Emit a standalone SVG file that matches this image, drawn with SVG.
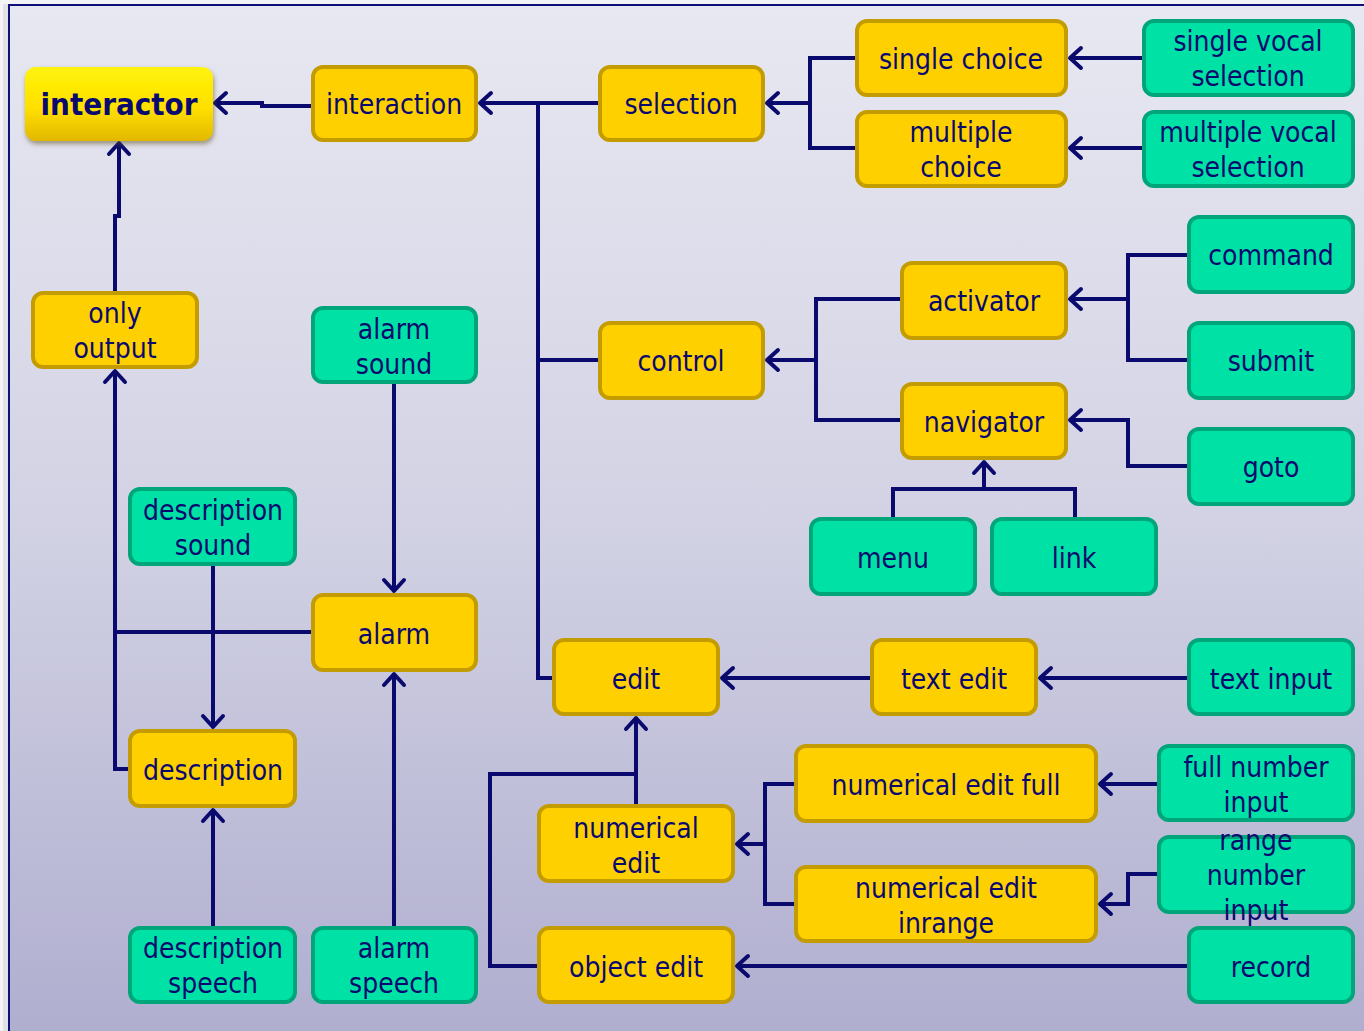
<svg xmlns="http://www.w3.org/2000/svg" width="1364" height="1031" viewBox="0 0 1364 1031">
  <defs>
    <linearGradient id="bg" x1="0" y1="0" x2="0" y2="1">
      <stop offset="0" stop-color="#E8E8F2"/>
      <stop offset="0.5" stop-color="#D2D2E4"/>
      <stop offset="1" stop-color="#B0AECF"/>
    </linearGradient>
    <linearGradient id="gold" x1="0" y1="0" x2="0" y2="1">
      <stop offset="0" stop-color="#FFF30A"/>
      <stop offset="0.55" stop-color="#FFE000"/>
      <stop offset="1" stop-color="#E2B800"/>
    </linearGradient>
    <filter id="shadow" x="-10%" y="-10%" width="125%" height="135%">
      <feDropShadow dx="1" dy="3" stdDeviation="2.5" flood-color="#5a5020" flood-opacity="0.55"/>
    </filter>
    <marker id="arrow" markerUnits="userSpaceOnUse" markerWidth="30" markerHeight="30" viewBox="-16 -15 20 30" refX="0" refY="0" orient="auto">
      <path d="M-11,-10 L0,0 L-11,10" fill="none" stroke="#0A0A6E" stroke-width="4" stroke-linecap="round" stroke-linejoin="round"/>
    </marker>
  </defs>
  <style>
    .y rect { fill: #FFD000; stroke: #C29C00; stroke-width: 4; }
    .g rect { fill: #00E1A6; stroke: #00A57A; stroke-width: 4; }
    text { font-family: "DejaVu Sans Condensed", "DejaVu Sans", sans-serif; font-size: 28px; fill: #0A0A6E; text-anchor: middle; }
    .conn path { fill: none; stroke: #0A0A6E; stroke-width: 4; stroke-linejoin: miter; }
    .conn path.a { marker-end: url(#arrow); }
  </style>

  <!-- page background -->
  <rect x="0" y="0" width="1364" height="1031" fill="#F4F4F6"/>
  <rect x="3" y="4" width="6" height="1027" fill="#E2E2E6"/>
  <rect x="9" y="5" width="1360" height="1030" fill="url(#bg)" stroke="#10107A" stroke-width="2"/>

  <!-- connectors -->
  <g class="conn">
    <path class="a" d="M311,106 H262 V103 H215"/>
    <path class="a" d="M115,291 V216 H119 V143"/>
    <path class="a" d="M598,103 H480"/>
    <path d="M538,103 V678 H552 M538,360 H598"/>
    <path d="M855,58 H810 V148 H855"/>
    <path class="a" d="M810,103 H767"/>
    <path class="a" d="M1142,58 H1070"/>
    <path class="a" d="M1142,148 H1070"/>
    <path d="M900,299 H816 V420 H900"/>
    <path class="a" d="M816,360 H767"/>
    <path d="M1187,255 H1128 V360 H1187"/>
    <path class="a" d="M1128,299 H1070"/>
    <path class="a" d="M1187,466 H1128 V420 H1070"/>
    <path d="M893,517 V489 H1075 V517"/>
    <path class="a" d="M984,489 V462"/>
    <path class="a" d="M394,384 V591"/>
    <path d="M311,632 H115"/>
    <path class="a" d="M128,769 H115 V371"/>
    <path class="a" d="M213,566 V727"/>
    <path class="a" d="M213,926 V810"/>
    <path class="a" d="M394,926 V674"/>
    <path class="a" d="M870,678 H722"/>
    <path class="a" d="M1187,678 H1040"/>
    <path class="a" d="M636,804 V718"/>
    <path d="M537,966 H490 V774 H636"/>
    <path d="M794,784 H765 V904 H794"/>
    <path class="a" d="M765,844 H737"/>
    <path class="a" d="M1157,784 H1100"/>
    <path class="a" d="M1157,874 H1128 V904 H1100"/>
    <path class="a" d="M1187,966 H737"/>
  </g>

  <!-- nodes -->
  <g id="interactor">
    <rect x="25" y="67" width="188" height="74" rx="11" fill="url(#gold)" filter="url(#shadow)"/>
    <text x="119" y="115" style="font-weight:bold;font-size:31px">interactor</text>
  </g>
  <g id="interaction" class="y"><rect x="313" y="67" width="163" height="73" rx="10"/><text x="394" y="114">interaction</text></g>
  <g id="selection" class="y"><rect x="600" y="67" width="163" height="73" rx="10"/><text x="681" y="114">selection</text></g>
  <g id="single-choice" class="y"><rect x="857" y="21" width="209" height="74" rx="10"/><text x="961" y="69">single choice</text></g>
  <g id="multiple-choice" class="y"><rect x="857" y="112" width="209" height="74" rx="10"/><text x="961" y="142">multiple</text><text x="961" y="177">choice</text></g>
  <g id="single-vocal-selection" class="g"><rect x="1144" y="21" width="209" height="74" rx="10"/><text x="1248" y="51">single vocal</text><text x="1248" y="86">selection</text></g>
  <g id="multiple-vocal-selection" class="g"><rect x="1144" y="112" width="209" height="74" rx="10"/><text x="1248" y="142">multiple vocal</text><text x="1248" y="177">selection</text></g>
  <g id="only-output" class="y"><rect x="33" y="293" width="164" height="74" rx="10"/><text x="115" y="323">only</text><text x="115" y="358">output</text></g>
  <g id="alarm-sound" class="g"><rect x="313" y="308" width="163" height="74" rx="10"/><text x="394" y="339">alarm</text><text x="394" y="374">sound</text></g>
  <g id="control" class="y"><rect x="600" y="323" width="163" height="75" rx="10"/><text x="681" y="371">control</text></g>
  <g id="activator" class="y"><rect x="902" y="263" width="164" height="75" rx="10"/><text x="984" y="311">activator</text></g>
  <g id="navigator" class="y"><rect x="902" y="384" width="164" height="74" rx="10"/><text x="984" y="432">navigator</text></g>
  <g id="command" class="g"><rect x="1189" y="217" width="164" height="75" rx="10"/><text x="1271" y="265">command</text></g>
  <g id="submit" class="g"><rect x="1189" y="323" width="164" height="75" rx="10"/><text x="1271" y="371">submit</text></g>
  <g id="goto" class="g"><rect x="1189" y="429" width="164" height="75" rx="10"/><text x="1271" y="477">goto</text></g>
  <g id="menu" class="g"><rect x="811" y="519" width="164" height="75" rx="10"/><text x="893" y="568">menu</text></g>
  <g id="link" class="g"><rect x="992" y="519" width="164" height="75" rx="10"/><text x="1074" y="568">link</text></g>
  <g id="description-sound" class="g"><rect x="130" y="489" width="165" height="75" rx="10"/><text x="213" y="520">description</text><text x="213" y="555">sound</text></g>
  <g id="alarm" class="y"><rect x="313" y="595" width="163" height="75" rx="10"/><text x="394" y="644">alarm</text></g>
  <g id="edit" class="y"><rect x="554" y="640" width="164" height="74" rx="10"/><text x="636" y="689">edit</text></g>
  <g id="text-edit" class="y"><rect x="872" y="640" width="164" height="74" rx="10"/><text x="954" y="689">text edit</text></g>
  <g id="text-input" class="g"><rect x="1189" y="640" width="164" height="74" rx="10"/><text x="1271" y="689">text input</text></g>
  <g id="description" class="y"><rect x="130" y="731" width="165" height="75" rx="10"/><text x="213" y="780">description</text></g>
  <g id="numerical-edit-full" class="y"><rect x="796" y="746" width="300" height="75" rx="10"/><text x="946" y="795">numerical edit full</text></g>
  <g id="full-number-input" class="g"><rect x="1159" y="746" width="194" height="74" rx="10"/><text x="1256" y="777">full number</text><text x="1256" y="812">input</text></g>
  <g id="numerical-edit" class="y"><rect x="539" y="806" width="194" height="75" rx="10"/><text x="636" y="838">numerical</text><text x="636" y="873">edit</text></g>
  <g id="numerical-edit-inrange" class="y"><rect x="796" y="867" width="300" height="74" rx="10"/><text x="946" y="898">numerical edit</text><text x="946" y="933">inrange</text></g>
  <g id="range-number-input" class="g"><rect x="1159" y="837" width="194" height="75" rx="10"/><text x="1256" y="850">range</text><text x="1256" y="885">number</text><text x="1256" y="920">input</text></g>
  <g id="object-edit" class="y"><rect x="539" y="928" width="194" height="74" rx="10"/><text x="636" y="977">object edit</text></g>
  <g id="record" class="g"><rect x="1189" y="928" width="164" height="74" rx="10"/><text x="1271" y="977">record</text></g>
  <g id="description-speech" class="g"><rect x="130" y="928" width="165" height="74" rx="10"/><text x="213" y="958">description</text><text x="213" y="993">speech</text></g>
  <g id="alarm-speech" class="g"><rect x="313" y="928" width="163" height="74" rx="10"/><text x="394" y="958">alarm</text><text x="394" y="993">speech</text></g>
</svg>
